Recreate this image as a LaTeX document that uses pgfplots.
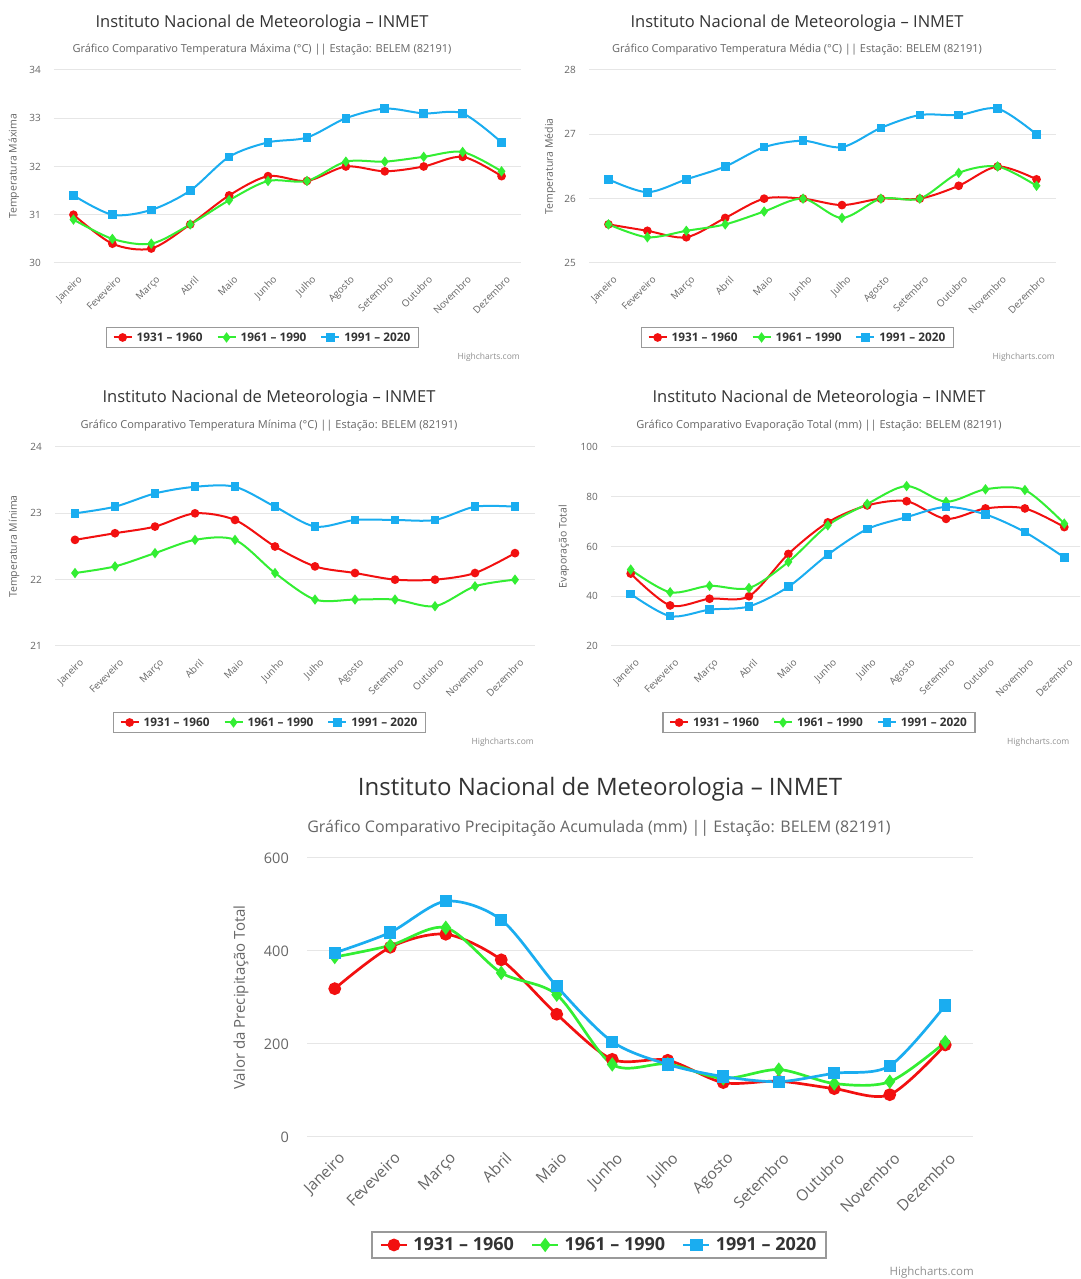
\documentclass[border=0pt]{standalone}
\usepackage{fontspec}
\setmainfont{Open Sans}
\usepackage{pgfplots}
\usepackage{pgfplotstable}
\pgfplotsset{compat=1.18}

\definecolor{cr}{HTML}{F21010}
\definecolor{cg}{HTML}{33EE33}
\definecolor{cb}{HTML}{1AADF0}
\definecolor{gridc}{HTML}{E6E6E6}
\definecolor{txt}{HTML}{333333}
\definecolor{lbl}{HTML}{666666}
\definecolor{legc}{HTML}{999999}
\definecolor{hcc}{HTML}{909090}

% month, 1931-1960, 1961-1990, 1991-2020
\pgfplotstableread{
m r g b
0 31.0 30.9 31.4
1 30.4 30.5 31.0
2 30.3 30.4 31.1
3 30.8 30.8 31.5
4 31.4 31.3 32.2
5 31.8 31.7 32.5
6 31.7 31.7 32.6
7 32.0 32.1 33.0
8 31.9 32.1 33.2
9 32.0 32.2 33.1
10 32.2 32.3 33.1
11 31.8 31.9 32.5
}\tmax

\pgfplotstableread{
m r g b
0 25.6 25.6 26.3
1 25.5 25.4 26.1
2 25.4 25.5 26.3
3 25.7 25.6 26.5
4 26.0 25.8 26.8
5 26.0 26.0 26.9
6 25.9 25.7 26.8
7 26.0 26.0 27.1
8 26.0 26.0 27.3
9 26.2 26.4 27.3
10 26.5 26.5 27.4
11 26.3 26.2 27.0
}\tmed

\pgfplotstableread{
m r g b
0 22.6 22.1 23.0
1 22.7 22.2 23.1
2 22.8 22.4 23.3
3 23.0 22.6 23.4
4 22.9 22.6 23.4
5 22.5 22.1 23.1
6 22.2 21.7 22.8
7 22.1 21.7 22.9
8 22.0 21.7 22.9
9 22.0 21.6 22.9
10 22.1 21.9 23.1
11 22.4 22.0 23.1
}\tmin

\pgfplotstableread{
m r g b
0 49.1 50.7 40.9
1 36.3 41.6 32.0
2 39.0 44.2 34.6
3 40.0 43.3 35.9
4 57.0 53.8 43.8
5 69.7 68.5 56.7
6 76.5 77.1 67.0
7 78.2 84.3 71.8
8 71.1 78.0 75.9
9 75.3 83.0 72.9
10 75.3 82.7 65.8
11 67.8 69.2 55.6
}\evap

\pgfplotstableread{
m r g b
0 319 387 396
1 408 412 440
2 436 450 507
3 381 353 467
4 264 306 324
5 167 156 205
6 165 157 156
7 117 126 130
8 120 145 119
9 104 115 137
10 91 119 153
11 198 204 283
}\prec

\pgfplotsset{
  hcaxis/.style={
    scale only axis, anchor=south west,
    xmin=-0.5, xmax=11.5, xtick={0,...,11},
    xticklabels={Janeiro,Feveveiro,Março,Abril,Maio,Junho,Julho,Agosto,Setembro,Outubro,Novembro,Dezembro},
    axis line style={draw=none},
    major tick length=0pt,
    ymajorgrids, major grid style={draw=gridc, line width=1pt},
    tick label style={text=lbl},
    /pgf/number format/assume math mode=true,
    clip=false,
    legend columns=3,
    ylabel style={text=lbl, anchor=center},
  },
  hctop/.style={hcaxis,
    xticklabel style={font=\fontsize{9.8}{11}\selectfont, xshift=4pt, yshift=-12pt, rotate=45, anchor=north east, inner sep=0pt},
    yticklabel style={font=\fontsize{10}{12}\selectfont, anchor=east, inner sep=0pt, xshift=-13pt},
    ylabel style={font=\fontsize{10.5}{12}\selectfont},
    legend image code/.code={\draw[##1, mark repeat=2, mark phase=2] plot coordinates {(0pt,0pt) (9pt,0pt) (18pt,0pt)};},
    legend style={anchor=center, draw=legc, line width=1.5pt, fill=white,
      font=\bfseries\fontsize{11.8}{14}\selectfont, text=txt, inner xsep=6pt, inner ysep=3pt,
      /tikz/every even column/.append style={column sep=12pt},
      /tikz/every odd column/.append style={column sep=2pt}},
  },
  hcbot/.style={hcaxis,
    xticklabel style={font=\fontsize{15.5}{17}\selectfont, xshift=3pt, yshift=-14pt, rotate=45, anchor=north east, inner sep=0pt},
    yticklabel style={font=\fontsize{14.5}{16}\selectfont, anchor=east, inner sep=0pt, xshift=-18pt},
    ylabel style={font=\fontsize{15}{17}\selectfont},
    legend image code/.code={\draw[##1, mark repeat=2, mark phase=2] plot coordinates {(0pt,0pt) (13pt,0pt) (26pt,0pt)};},
    legend style={anchor=center, draw=legc, line width=2pt, fill=white,
      font=\bfseries\fontsize{18}{21}\selectfont, text=txt, inner xsep=8pt, inner ysep=4pt,
      /tikz/every even column/.append style={column sep=15pt},
      /tikz/every odd column/.append style={column sep=3pt}},
  },
  rT/.style={draw=cr, line width=2pt, smooth, mark=*, mark size=3.3pt, mark options={fill=cr, draw=none}},
  gT/.style={draw=cg, line width=2pt, smooth, mark=diamond*, mark size=3.6pt, mark options={fill=cg, draw=none}},
  bT/.style={draw=cb, line width=2pt, smooth, mark=square*, mark size=3.3pt, mark options={fill=cb, draw=none}},
  rB/.style={draw=cr, line width=2.7pt, smooth, mark=*, mark size=5pt, mark options={fill=cr, draw=none}},
  gB/.style={draw=cg, line width=2.7pt, smooth, mark=diamond*, mark size=5pt, mark options={fill=cg, draw=none}},
  bB/.style={draw=cb, line width=2.7pt, smooth, mark=square*, mark size=4.8pt, mark options={fill=cb, draw=none}},
}

\tikzset{
  ttl/.style={text=txt, font=\fontsize{16.5}{19}\selectfont, inner sep=0pt},
  sub/.style={text=lbl, font=\fontsize{11}{13}\selectfont, inner sep=0pt},
  hcl/.style={text=hcc, font=\fontsize{8.5}{10}\selectfont, inner sep=0pt},
}

\begin{document}
\begin{tikzpicture}
\useasboundingbox (0pt,0pt) rectangle (1080pt,1279pt);
\fill[white] (0pt,0pt) rectangle (1080pt,1279pt);
\clip (0pt,0pt) rectangle (1080pt,1279pt);

% ---------- Temperatura Maxima ----------
\begin{axis}[hctop, at={(54pt,1016pt)}, width=467pt, height=193pt,
  ymin=30, ymax=34, ytick={30,31,32,33,34},
  ylabel={Temperatura Máxima}, ylabel style={at={(axis description cs:-0.0857,0.5)}},
  legend style={at={(0.4465,-0.386)}}]
\addplot[rT] table[x=m,y=r]{\tmax}; \addlegendentry{1931 \textendash{} 1960}
\addplot[gT] table[x=m,y=g]{\tmax}; \addlegendentry{1961 \textendash{} 1990}
\addplot[bT] table[x=m,y=b]{\tmax}; \addlegendentry{1991 \textendash{} 2020}
\end{axis}
\node[ttl] at (262pt,1256pt) {Instituto Nacional de Meteorologia \textendash{} INMET};
\node[sub] at (262pt,1229pt) {Gráfico Comparativo Temperatura Máxima (°C) || Estação: BELEM (82191)};
\node[hcl, anchor=east] at (520pt,922pt) {Highcharts.com};

% ---------- Temperatura Media ----------
\begin{axis}[hctop, at={(589pt,1016pt)}, width=467pt, height=193pt,
  ymin=25, ymax=28, ytick={25,26,27,28},
  ylabel={Temperatura Média}, ylabel style={at={(axis description cs:-0.0835,0.5)}},
  legend style={at={(0.4465,-0.386)}}]
\addplot[rT] table[x=m,y=r]{\tmed}; \addlegendentry{1931 \textendash{} 1960}
\addplot[gT] table[x=m,y=g]{\tmed}; \addlegendentry{1961 \textendash{} 1990}
\addplot[bT] table[x=m,y=b]{\tmed}; \addlegendentry{1991 \textendash{} 2020}
\end{axis}
\node[ttl] at (797pt,1256pt) {Instituto Nacional de Meteorologia \textendash{} INMET};
\node[sub] at (797pt,1229pt) {Gráfico Comparativo Temperatura Média (°C) || Estação: BELEM (82191)};
\node[hcl, anchor=east] at (1055pt,922pt) {Highcharts.com};

% ---------- Temperatura Minima ----------
\begin{axis}[hctop, at={(55pt,633pt)}, width=480pt, height=199pt,
  ymin=21, ymax=24, ytick={21,22,23,24},
  ylabel={Temperatura Mínima}, ylabel style={at={(axis description cs:-0.0854,0.5)}},
  legend style={at={(0.4469,-0.3844)}}]
\addplot[rT] table[x=m,y=r]{\tmin}; \addlegendentry{1931 \textendash{} 1960}
\addplot[gT] table[x=m,y=g]{\tmin}; \addlegendentry{1961 \textendash{} 1990}
\addplot[bT] table[x=m,y=b]{\tmin}; \addlegendentry{1991 \textendash{} 2020}
\end{axis}
\node[ttl] at (269pt,881pt) {Instituto Nacional de Meteorologia \textendash{} INMET};
\node[sub] at (269pt,853pt) {Gráfico Comparativo Temperatura Mínima (°C) || Estação: BELEM (82191)};
\node[hcl, anchor=east] at (534pt,537pt) {Highcharts.com};

% ---------- Evaporacao ----------
\begin{axis}[hctop, at={(611pt,633pt)}, width=473pt, height=199pt,
  ymin=20, ymax=100, ytick={20,40,60,80,100},
  ylabel={Evaporação Total}, ylabel style={at={(axis description cs:-0.0994,0.5)}},
  legend style={at={(0.4397,-0.3844)}}]
\addplot[rT] table[x=m,y=r]{\evap}; \addlegendentry{1931 \textendash{} 1960}
\addplot[gT] table[x=m,y=g]{\evap}; \addlegendentry{1961 \textendash{} 1990}
\addplot[bT] table[x=m,y=b]{\evap}; \addlegendentry{1991 \textendash{} 2020}
\end{axis}
\node[ttl] at (819pt,881pt) {Instituto Nacional de Meteorologia \textendash{} INMET};
\node[sub] at (819pt,853pt) {Gráfico Comparativo Evaporação Total (mm) || Estação: BELEM (82191)};
\node[hcl, anchor=west] at (1007pt,537pt) {Highcharts.com};

% ---------- Precipitacao ----------
\begin{axis}[hcbot, at={(307pt,142pt)}, width=666pt, height=279pt,
  ymin=0, ymax=600, ytick={0,200,400,600},
  ylabel={Valor da Precipitação Total}, ylabel style={at={(axis description cs:-0.099,0.5)}},
  legend style={at={(0.4384,-0.387)}}]
\addplot[rB] table[x=m,y=r]{\prec}; \addlegendentry{1931 \textendash{} 1960}
\addplot[gB] table[x=m,y=g]{\prec}; \addlegendentry{1961 \textendash{} 1990}
\addplot[bB] table[x=m,y=b]{\prec}; \addlegendentry{1991 \textendash{} 2020}
\end{axis}
\node[ttl, font=\fontsize{24}{28}\selectfont] at (600pt,490pt) {Instituto Nacional de Meteorologia \textendash{} INMET};
\node[sub, font=\fontsize{16}{18}\selectfont] at (599pt,451pt) {Gráfico Comparativo Precipitação Acumulada (mm) || Estação: BELEM (82191)};
\node[hcl, anchor=east, font=\fontsize{11.5}{13}\selectfont] at (974pt,6pt) {Highcharts.com};
\end{tikzpicture}
\end{document}
